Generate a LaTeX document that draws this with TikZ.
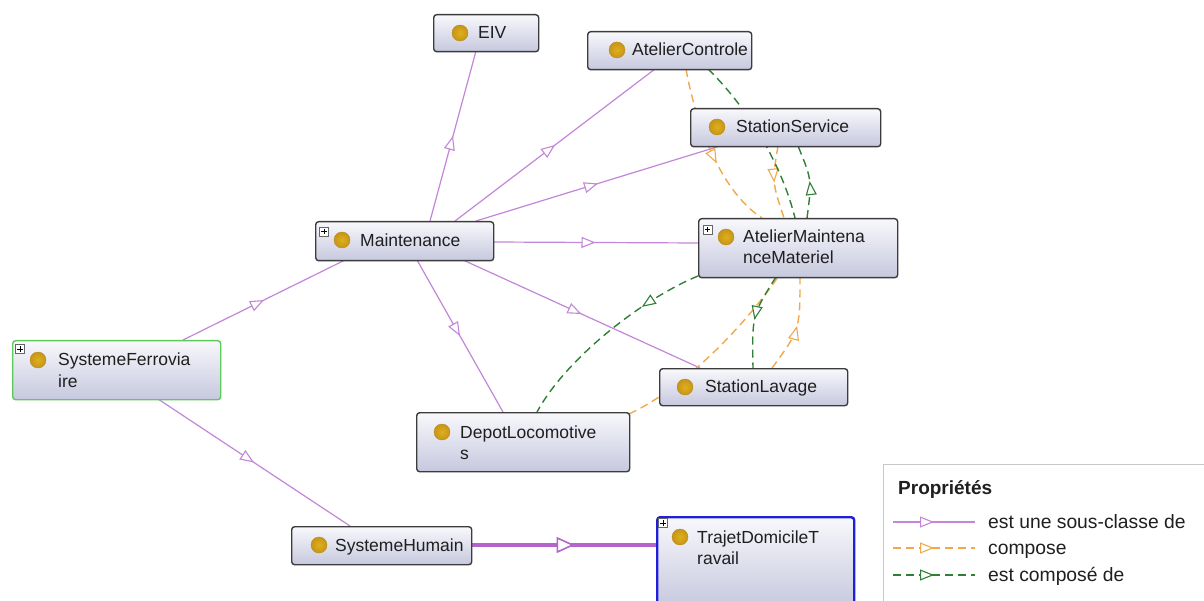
\documentclass[tikz,border=0pt]{standalone}
\usepackage{fontspec}
\setmainfont{Liberation Sans}
\usetikzlibrary{arrows.meta,decorations.markings,calc}
\pgfdeclarelayer{bglayer}
\pgfdeclarelayer{edgelayer}
\pgfsetlayers{bglayer,edgelayer,main}
\definecolor{nodeborder}{HTML}{3C3C3C}
\definecolor{boxtop}{HTML}{F8F8FC}
\definecolor{boxbot}{HTML}{C6C8DE}
\definecolor{golddot}{HTML}{D8A21E}
\definecolor{subc}{HTML}{C386D8}
\definecolor{subthick}{HTML}{B564CC}
\definecolor{compc}{HTML}{F2A84A}
\definecolor{compdc}{HTML}{2F7F35}
\definecolor{greenb}{HTML}{5CCB5C}
\definecolor{blueb}{HTML}{1F1FD8}
\definecolor{legb}{HTML}{C8C8C8}
\tikzset{
  clsbox/.style={draw=nodeborder, line width=1.4pt, rounded corners=3pt, top color=boxtop, bottom color=boxbot, inner sep=0pt, anchor=north west},
  lbl/.style={inner sep=0pt, anchor=base west, font=\fontsize{17.5}{21}\selectfont, align=left, text=black!88},
  leglbl/.style={inner sep=0pt, anchor=base west, font=\fontsize{19.3}{21}\selectfont, text=black!88},
  dotnode/.style={circle, inner color=golddot!85!yellow, outer color=golddot!92!black, draw=golddot!85!black, line width=0.4pt, inner sep=0pt, minimum size=16pt},
  plusbox/.style={draw=black!60, fill=white, line width=0.6pt, inner sep=0pt, minimum size=9pt,
    path picture={\draw[line width=0.8pt,black] ([xshift=1.8pt]path picture bounding box.west) -- ([xshift=-1.8pt]path picture bounding box.east) ([yshift=-1.8pt]path picture bounding box.north) -- ([yshift=1.8pt]path picture bounding box.south);}},
  midtri/.style={postaction={decorate}, decoration={markings, mark=at position #1 with {\arrow{Triangle[fill=white, length=14pt, width=11pt, line width=1.1pt]}}}},
  subedge/.style={draw=subc, line width=1.2pt, midtri=#1},
  subedge/.default=0.5,
  compedge/.style={draw=compc, line width=1.4pt, dash pattern=on 8pt off 5pt, midtri=#1},
  compedge/.default=0.5,
  compdedge/.style={draw=compdc, line width=1.4pt, dash pattern=on 8pt off 5pt, midtri=#1},
  compdedge/.default=0.5,
}
\begin{document}
\begin{tikzpicture}[x=1pt,y=-1pt]
\useasboundingbox (0,0) rectangle (1204,601);
\begin{pgfonlayer}{bglayer}
\fill[white] (0,0) rectangle (1204,601);
\end{pgfonlayer}

% ---- class nodes
\node[clsbox, minimum width=105pt, minimum height=37pt] (eiv) at (433,14) {};
\node[dotnode] (eiv-d) at (460,33) {};
\node[lbl] (eiv-t) at (478,38.5) {EIV};

\node[clsbox, minimum width=164pt, minimum height=38pt] (ac) at (587,31) {};
\node[dotnode] (ac-d) at (617,50) {};
\node[lbl] (ac-t) at (632,56) {AtelierControle};

\node[clsbox, minimum width=190pt, minimum height=38pt] (ss) at (690,108) {};
\node[dotnode] (ss-d) at (717,127) {};
\node[lbl] (ss-t) at (736,133) {StationService};

\node[clsbox, minimum width=178pt, minimum height=39pt] (maint) at (315,221) {};
\node[plusbox] (maint-p) at (324,231.5) {};
\node[dotnode] (maint-d) at (342,240) {};
\node[lbl] (maint-t) at (360,246.5) {Maintenance};

\node[clsbox, minimum width=199pt, minimum height=59pt] (amm) at (698,218) {};
\node[plusbox] (amm-p) at (707.5,229.5) {};
\node[dotnode] (amm-d) at (726,237) {};
\node[lbl] (amm-t) at (743,264) {AtelierMaintena\\nceMateriel};

\node[clsbox, draw=greenb, minimum width=208pt, minimum height=59pt] (sf) at (12,340) {};
\node[plusbox] (sf-p) at (20,349) {};
\node[dotnode] (sf-d) at (38,360) {};
\node[lbl] (sf-t) at (58,387) {SystemeFerrovia\\ire};

\node[clsbox, minimum width=188pt, minimum height=37pt] (sl) at (659,368) {};
\node[dotnode] (sl-d) at (685,387) {};
\node[lbl] (sl-t) at (705,392.5) {StationLavage};

\node[clsbox, minimum width=213pt, minimum height=59pt] (depot) at (416,412) {};
\node[dotnode] (depot-d) at (442,432) {};
\node[lbl] (depot-t) at (460,459) {DepotLocomotive\\s};

\node[clsbox, minimum width=180pt, minimum height=38pt] (sh) at (291,526) {};
\node[dotnode] (sh-d) at (319,545) {};
\node[lbl] (sh-t) at (335,551) {SystemeHumain};

\node[clsbox, draw=blueb, line width=2.4pt, minimum width=197pt, minimum height=90pt] (tdt) at (656,516) {};
\node[plusbox] (tdt-p) at (663,523) {};
\node[dotnode] (tdt-d) at (680,537) {};
\node[lbl] (tdt-t) at (697,564) {TrajetDomicileT\\ravail};

% ---- connectors
\begin{pgfonlayer}{edgelayer}
% est une sous-classe de
\draw[subedge] ($(maint.north west)+(115,0)$) -- ($(eiv.north west)+(43,37)$);
\draw[subedge] ($(maint.north west)+(140,0)$) -- ($(ac.north west)+(68,38)$);
\draw[subedge] ($(maint.north west)+(161,0)$) -- ($(ss.north west)+(30,38)$);
\draw[subedge] ($(maint.north west)+(178,21)$) -- ($(amm.north west)+(0,25)$);
\draw[subedge] ($(maint.north west)+(148,39)$) -- ($(sl.north west)+(41,0)$);
\draw[subedge] ($(maint.north west)+(102,39)$) -- ($(depot.north west)+(87,0)$);
\draw[subedge] ($(sf.north west)+(171,0)$) -- ($(maint.north west)+(30,39)$);
\draw[subedge] ($(sf.north west)+(146,59)$) -- ($(sh.north west)+(59,0)$);
\draw[draw=subthick, line width=3.8pt, postaction={decorate}, decoration={markings, mark=at position 0.56 with {\arrow{Triangle[fill=white, length=18pt, width=16pt, line width=1.6pt]}}}]
  ($(sh.north west)+(180,19)$) -- ($(tdt.north west)+(0,29)$);
% compose
\draw[compedge=0.58] ($(ac.north west)+(99,38)$) .. controls (694,115) and (718,190) .. ($(amm.north west)+(64,0)$);
\draw[compedge] ($(ss.north west)+(88,38)$) .. controls (772,182) .. ($(amm.north west)+(86,0)$);
\draw[compedge] ($(sl.north west)+(113,0)$) .. controls (800,330) .. ($(amm.north west)+(102,59)$);
\draw[compedge=0.3] ($(depot.north west)+(213,2)$) .. controls (685,388) and (745,325) .. ($(amm.north west)+(80,59)$);
% est compose de
\draw[compdedge] ($(ac.north west)+(121,38)$) .. controls (735,95) and (778,150) .. ($(amm.north west)+(97,0)$);
\draw[compdedge] ($(amm.north west)+(109,0)$) .. controls (812,180) .. ($(ss.north west)+(108,38)$);
\draw[compdedge] ($(amm.north west)+(78,59)$) .. controls (752,315) .. ($(sl.north west)+(94,0)$);
\draw[compdedge=0.3] ($(amm.north west)+(0,58)$) .. controls (640,300) and (565,360) .. ($(depot.north west)+(121,0)$);
\end{pgfonlayer}

% ---- legend
\draw[draw=legb, line width=1pt, fill=white] (883,464) rectangle (1215,615);
\node[inner sep=0pt, anchor=base west, font=\bfseries\fontsize{19}{21}\selectfont, text=black!88] (leg-title) at (898,494) {Propriétés};
\coordinate (l1a) at (893,522); \coordinate (l1b) at (975,522);
\coordinate (l2a) at (893,548); \coordinate (l2b) at (975,548);
\coordinate (l3a) at (893,575); \coordinate (l3b) at (975,575);
\draw[subedge] (l1a) -- (l1b);
\draw[compedge] (l2a) -- (l2b);
\draw[compdedge] (l3a) -- (l3b);
\node[leglbl] (leg-1) at (988,528.5) {est une sous-classe de};
\node[leglbl] (leg-2) at (988,554.5) {compose};
\node[leglbl] (leg-3) at (988,581.5) {est composé de};
\end{tikzpicture}
\end{document}
